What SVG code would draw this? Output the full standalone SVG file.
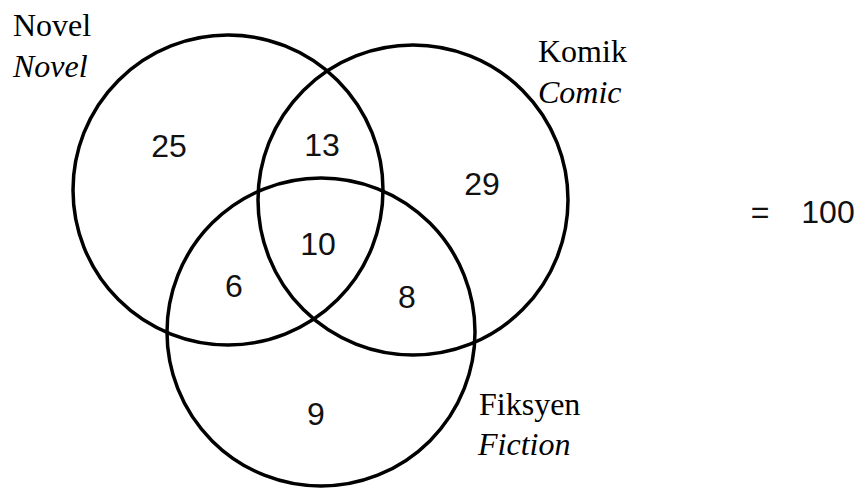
<svg xmlns="http://www.w3.org/2000/svg" width="865" height="489" viewBox="0 0 865 489">
<style>
.c{fill:none;stroke:#000;stroke-width:3.5}
.lbl{font-family:"Liberation Serif",serif;font-size:32px;fill:#000}
.it{font-style:italic}
.n{font-family:"Liberation Sans",sans-serif;font-size:32px;fill:#111;text-anchor:middle}
</style>
<rect width="865" height="489" fill="#fff"/>
<g id="connectors"></g>
<g id="novel">
<circle class="c" cx="228" cy="190" r="155"/>
<text class="lbl" x="13" y="36">Novel</text>
<text class="lbl it" x="13" y="77">Novel</text>
</g>
<g id="komik">
<circle class="c" cx="413" cy="200" r="155"/>
<text class="lbl" x="538" y="62">Komik</text>
<text class="lbl it" x="538" y="103">Comic</text>
</g>
<g id="fiksyen">
<circle class="c" cx="321" cy="332" r="154"/>
<text class="lbl" x="479" y="415">Fiksyen</text>
<text class="lbl it" x="478" y="455">Fiction</text>
</g>
<g id="values">
<text class="n" x="169" y="157">25</text>
<text class="n" x="322" y="156">13</text>
<text class="n" x="482" y="195">29</text>
<text class="n" x="318" y="255">10</text>
<text class="n" x="234" y="297">6</text>
<text class="n" x="407" y="308">8</text>
<text class="n" x="316" y="425">9</text>
<text class="n" x="760" y="223">=</text>
<text class="n" x="828" y="223">100</text>
</g>
</svg>
